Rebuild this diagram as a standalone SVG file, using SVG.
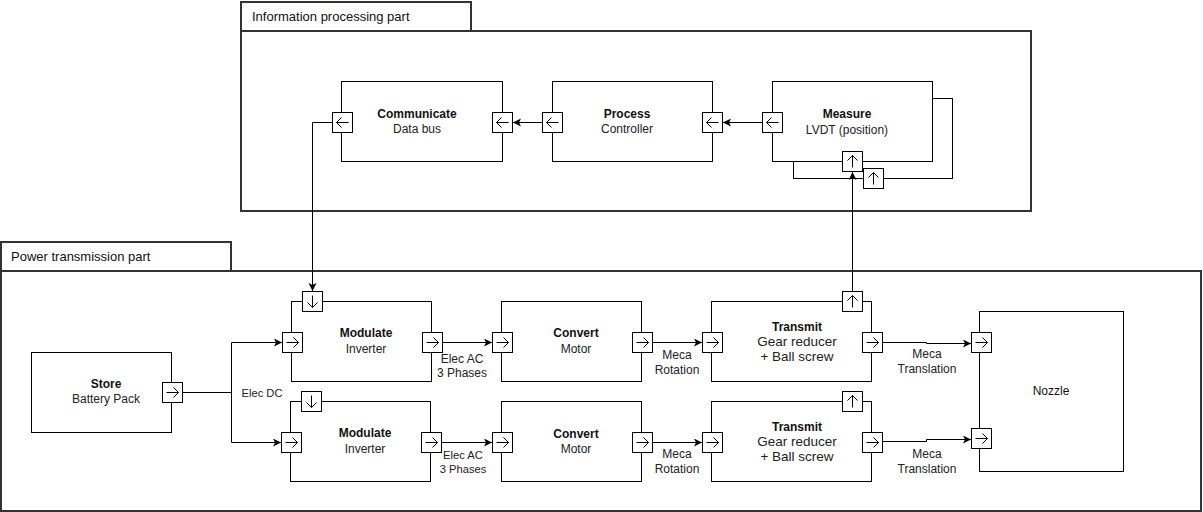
<svg xmlns="http://www.w3.org/2000/svg" width="1203" height="512" viewBox="0 0 1203 512">
<style>
.frame{fill:#fff;stroke:#333;stroke-width:2}
.box{fill:#fff;stroke:#000;stroke-width:1}
.port{fill:#fff;stroke:#000;stroke-width:1}
.glyph{fill:none;stroke:#000;stroke-width:1}
.wire{fill:none;stroke:#000;stroke-width:1}
text{font-family:"Liberation Sans",Arial,sans-serif;font-size:12px;fill:#222}
.b{font-weight:bold;fill:#111}
.m{text-anchor:middle}
.t{font-size:13px;fill:#111}
.big{font-size:13.5px}
.s{font-size:11.2px}
</style>
<defs>
<marker id="ah" markerWidth="10" markerHeight="10" refX="8" refY="4" orient="auto" markerUnits="userSpaceOnUse">
<path d="M0,0 L8,4 L0,8 L2,4 Z" fill="#000"/>
</marker>
<g id="pR"><rect class="port" x="0" y="0" width="20" height="20"/><path class="glyph" d="M4 10 H16 M11 5 L16 10 L11 15"/></g>
<g id="pL"><rect class="port" x="0" y="0" width="20" height="20"/><path class="glyph" d="M16 10 H4 M9 5 L4 10 L9 15"/></g>
<g id="pU"><rect class="port" x="0" y="0" width="20" height="20"/><path class="glyph" d="M10 16 V4 M5 9 L10 4 L15 9"/></g>
<g id="pD"><rect class="port" x="0" y="0" width="20" height="20"/><path class="glyph" d="M10 4 V16 M5 11 L10 16 L15 11"/></g>
</defs>
<rect width="1203" height="512" fill="#fff"/>

<g id="info-part">
<rect class="frame" x="241" y="2" width="230" height="29"/>
<rect class="frame" x="241" y="31" width="790" height="180"/>
<text class="t" x="252" y="20.5">Information processing part</text>
</g>

<g id="power-part">
<rect class="frame" x="1" y="242" width="230" height="29"/>
<rect class="frame" x="1" y="271" width="1200" height="240"/>
<text class="t" x="11" y="260.5">Power transmission part</text>
</g>

<g id="communicate">
<rect class="box" x="341.5" y="81.5" width="161" height="80"/>
<text class="m b" x="417" y="118">Communicate</text>
<text class="m" x="417" y="133">Data bus</text>
<use href="#pL" x="332.5" y="112.5"/>
<use href="#pL" x="492.5" y="112.5"/>
</g>

<g id="process">
<rect class="box" x="552.5" y="81.5" width="160" height="80"/>
<text class="m b" x="627" y="118">Process</text>
<text class="m" x="627" y="133">Controller</text>
<use href="#pL" x="542.5" y="112.5"/>
<use href="#pL" x="702.5" y="112.5"/>
</g>

<g id="measure">
<rect class="box" x="793.5" y="98.5" width="159" height="80"/>
<use href="#pU" x="863.5" y="168.5"/>
<rect class="box" x="772.5" y="81.5" width="160" height="80"/>
<text class="m b" x="847" y="118">Measure</text>
<text class="m" x="847" y="134">LVDT (position)</text>
<use href="#pL" x="762.5" y="112.5"/>
<use href="#pU" x="842.5" y="151.5"/>
</g>

<g id="store">
<rect class="box" x="31.5" y="352.5" width="140" height="80"/>
<text class="m b" x="106" y="388">Store</text>
<text class="m" x="106" y="403">Battery Pack</text>
<use href="#pR" x="162.5" y="382.5"/>
</g>

<g id="modulate-1">
<rect class="box" x="291.5" y="301.5" width="140" height="80"/>
<text class="m b" x="366" y="337">Modulate</text>
<text class="m" x="366" y="353">Inverter</text>
<use href="#pR" x="282.5" y="332.5"/>
<use href="#pR" x="422.5" y="332.5"/>
<use href="#pD" x="302.5" y="291.5"/>
</g>

<g id="modulate-2">
<rect class="box" x="290.5" y="401.5" width="140" height="80"/>
<text class="m b" x="365" y="437">Modulate</text>
<text class="m" x="365" y="453">Inverter</text>
<use href="#pR" x="281.5" y="432.5"/>
<use href="#pR" x="421.5" y="432.5"/>
<use href="#pD" x="301.5" y="391.5"/>
</g>

<g id="convert-1">
<rect class="box" x="501.5" y="301.5" width="140" height="80"/>
<text class="m b" x="576" y="337">Convert</text>
<text class="m" x="576" y="353">Motor</text>
<use href="#pR" x="492.5" y="332.5"/>
<use href="#pR" x="632.5" y="332.5"/>
</g>

<g id="convert-2">
<rect class="box" x="501.5" y="401.5" width="140" height="80"/>
<text class="m b" x="576" y="438">Convert</text>
<text class="m" x="576" y="453">Motor</text>
<use href="#pR" x="492.5" y="432.5"/>
<use href="#pR" x="632.5" y="432.5"/>
</g>

<g id="transmit-1">
<rect class="box" x="711.5" y="301.5" width="160" height="80"/>
<text class="m b" x="797" y="331">Transmit</text>
<text class="m big" x="797" y="346">Gear reducer</text>
<text class="m big" x="797" y="361">+ Ball screw</text>
<use href="#pR" x="702.5" y="332.5"/>
<use href="#pR" x="862.5" y="332.5"/>
<use href="#pU" x="842.5" y="291.5"/>
</g>

<g id="transmit-2">
<rect class="box" x="711.5" y="401.5" width="160" height="80"/>
<text class="m b" x="797" y="431">Transmit</text>
<text class="m big" x="797" y="446">Gear reducer</text>
<text class="m big" x="797" y="461">+ Ball screw</text>
<use href="#pR" x="702.5" y="432.5"/>
<use href="#pR" x="862.5" y="432.5"/>
<use href="#pU" x="842.5" y="391.5"/>
</g>

<g id="nozzle">
<rect class="box" x="979.5" y="311.5" width="144" height="160"/>
<text class="m" x="1051" y="395" style="fill:#111">Nozzle</text>
<use href="#pR" x="971.5" y="332.5"/>
<use href="#pR" x="971.5" y="428.5"/>
</g>

<g id="connectors">
<path class="wire" d="M762.5 122.5 H723" marker-end="url(#ah)"/>
<path class="wire" d="M542.5 122.5 H513" marker-end="url(#ah)"/>
<path class="wire" d="M332.5 122.5 H312.5 V291" marker-end="url(#ah)"/>
<path class="wire" d="M182.5 392.5 H231.5 V342.5 H282" marker-end="url(#ah)"/>
<path class="wire" d="M231.5 392.5 V442.5 H281" marker-end="url(#ah)"/>
<path class="wire" d="M442.5 342.5 H492" marker-end="url(#ah)"/>
<path class="wire" d="M441.5 442.5 H492" marker-end="url(#ah)"/>
<path class="wire" d="M652.5 342.5 H702" marker-end="url(#ah)"/>
<path class="wire" d="M652.5 442.5 H702" marker-end="url(#ah)"/>
<path class="wire" d="M882.5 342.5 H926.5 V343.5 H971" marker-end="url(#ah)"/>
<path class="wire" d="M882.5 441.5 H926.5 V439.5 H971" marker-end="url(#ah)"/>
<path class="wire" d="M852.5 291.5 V172" marker-end="url(#ah)"/>
<text x="262" y="397" class="m s">Elec DC</text>
<text x="462" y="363" class="m">Elec AC</text>
<text x="462" y="377" class="m">3 Phases</text>
<text x="463" y="459" class="m s">Elec AC</text>
<text x="463" y="473" class="m s">3 Phases</text>
<text x="677" y="359" class="m">Meca</text>
<text x="677" y="374" class="m">Rotation</text>
<text x="677" y="458" class="m">Meca</text>
<text x="677" y="473" class="m">Rotation</text>
<text x="927" y="358" class="m">Meca</text>
<text x="927" y="373" class="m">Translation</text>
<text x="927" y="458" class="m">Meca</text>
<text x="927" y="473" class="m">Translation</text>
</g>
</svg>
